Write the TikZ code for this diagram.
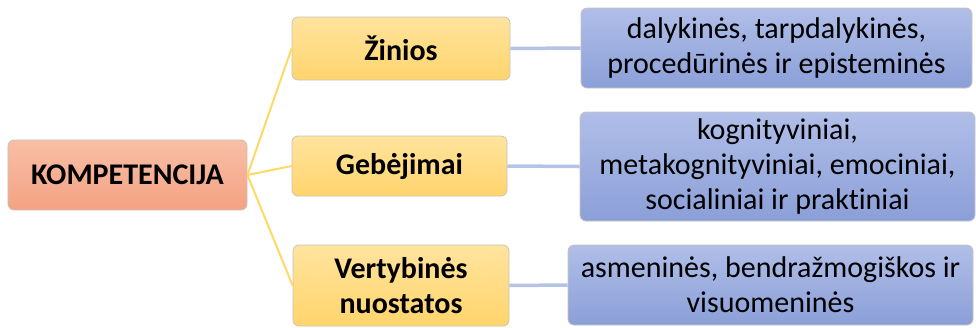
\documentclass[tikz,border=0pt]{standalone}
\usepackage{fontspec}
\setmainfont{Carlito}[Ligatures=NoCommon]
\definecolor{salmonT}{HTML}{F8BFA6}
\definecolor{salmonB}{HTML}{F4A282}
\definecolor{yelT}{HTML}{FFE49E}
\definecolor{yelB}{HTML}{FFD46C}
\definecolor{bluT}{HTML}{B0BEE8}
\definecolor{bluB}{HTML}{8B9FD8}
\definecolor{yelLine}{HTML}{FFD966}
\definecolor{bluLine}{HTML}{B4C4E6}
\definecolor{edge}{HTML}{C9C3BC}
\tikzset{
  box/.style={rectangle, rounded corners=6bp, draw=edge, line width=0.8bp, align=center, inner sep=0pt,
    font=\fontsize{30bp}{35bp}\selectfont},
  rootbox/.style={box, top color=salmonT, bottom color=salmonB, font=\fontsize{30bp}{35bp}\selectfont\bfseries},
  midbox/.style={box, top color=yelT, bottom color=yelB, font=\fontsize{30bp}{35bp}\selectfont\bfseries},
  leafbox/.style={box, top color=bluT, bottom color=bluB},
  yline/.style={draw=yelLine, line width=2bp},
  bline/.style={draw=bluLine, line width=3.5bp}
}
\begin{document}
\begin{tikzpicture}[x=1bp,y=-1bp]
\useasboundingbox (0,0) rectangle (976,327);
\node[rootbox, minimum width=239bp, minimum height=70bp] (komp) at (127.5,175) {KOMPETENCIJA};
\node[midbox, minimum width=218bp, minimum height=63bp] (zin) at (401,48.5) {Žinios};
\node[midbox, minimum width=215bp, minimum height=60bp] (geb) at (399.5,166) {Gebėjimai};
\node[midbox, minimum width=216bp, minimum height=81bp] (ver) at (401,285.5) {Vertybinės\\nuostatos};
\node[leafbox, minimum width=391bp, minimum height=80bp] (r1) at (776.5,48) {dalykinės, tarpdalykinės,\\procedūrinės ir episteminės};
\node[leafbox, minimum width=395bp, minimum height=109bp] (r2) at (777.5,166.5) {kognityviniai,\\metakognityviniai, emociniai,\\socialiniai ir praktiniai};
\node[leafbox, minimum width=405bp, minimum height=80bp] (r3) at (770.5,285) {asmeninės, bendražmogiškos ir\\visuomeninės};
\draw[yline] (komp.east) -- (zin.west);
\draw[yline] (komp.east) -- (geb.west);
\draw[yline] (komp.east) -- (ver.west);
\draw[bline] (zin.east) -- (r1.west);
\draw[bline] (geb.east) -- (r2.west);
\draw[bline] (ver.east) -- (r3.west);
\end{tikzpicture}
\end{document}
